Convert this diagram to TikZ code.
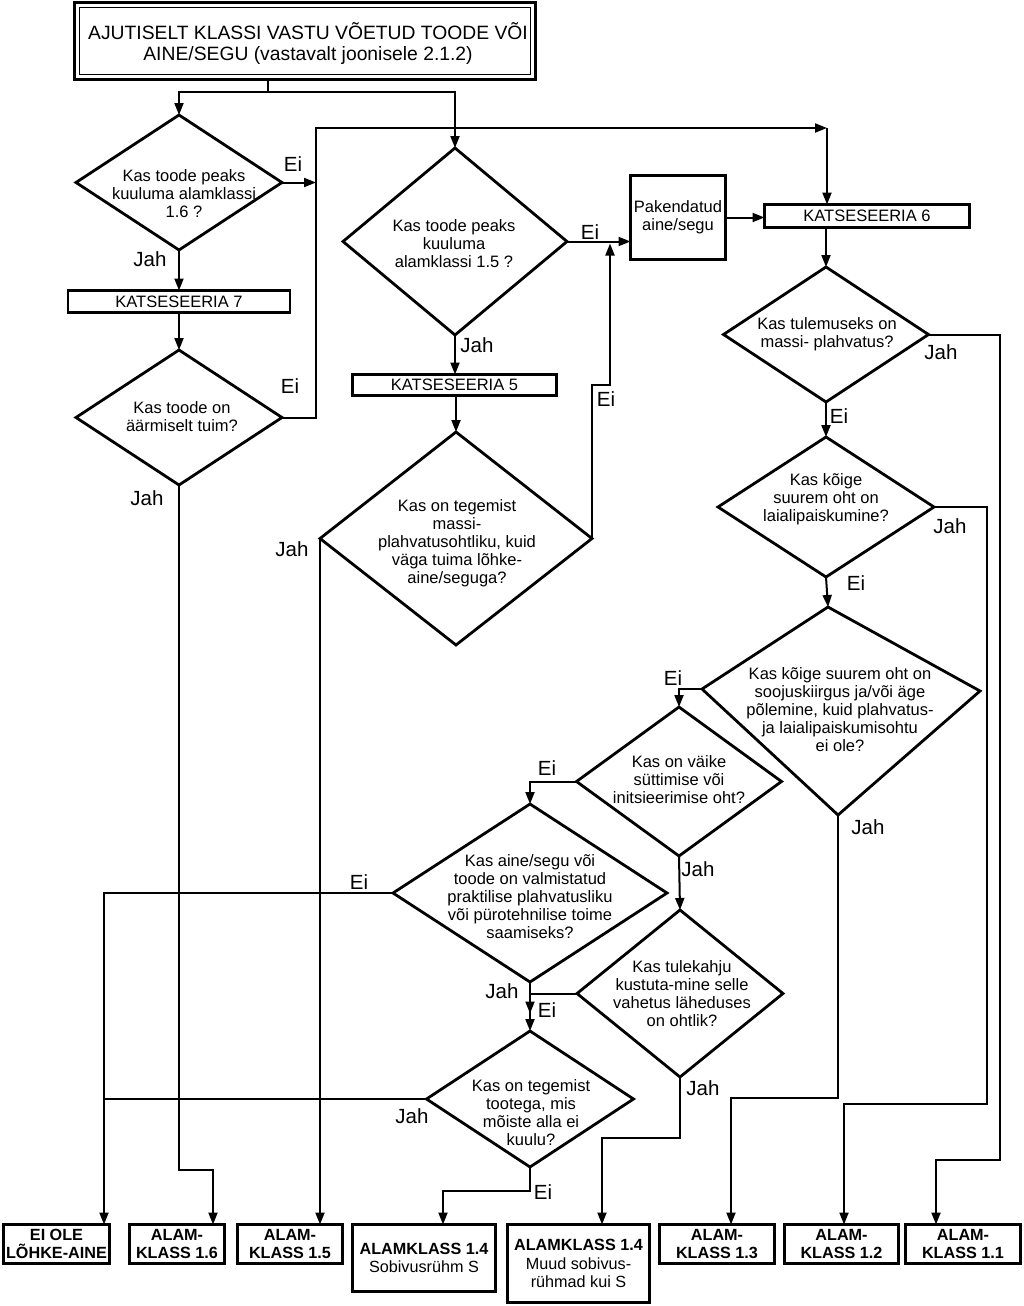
\documentclass[tikz,border=0pt]{standalone}
\usepackage{fontspec}
\setmainfont{Liberation Sans}
\usetikzlibrary{arrows.meta,shapes.geometric}
\begin{document}
\begin{tikzpicture}[x=1pt,y=-1pt,
  conn/.style={line width=2pt},
  arr/.style={conn,-{Triangle[length=12pt,width=9pt]}},
  dia/.style={draw,diamond,line width=2.8pt,inner sep=0pt,outer sep=0pt},
  qt/.style={font=\fontsize{16.5}{18}\selectfont,align=center,inner sep=0pt},
  lbl/.style={font=\fontsize{20.5}{22}\selectfont,inner sep=0pt},
  kbox/.style={draw,line width=2.8pt,inner sep=0pt,outer sep=0pt,align=center,font=\fontsize{16.5}{18}\selectfont},
  res/.style={draw,line width=2.8pt,inner sep=0pt,outer sep=0pt,align=center,font=\fontsize{16.2}{18.3}\selectfont\bfseries}
]
\useasboundingbox (0,0) rectangle (1023,1306);

% top box
\node[draw,line width=3pt,minimum width=461pt,minimum height=77pt,inner sep=0pt,outer sep=0pt] (top) at (305,41) {};
\draw[line width=1.3pt] ([shift={(5,5)}]top.north west) rectangle ([shift={(-5,-5)}]top.south east);
\node[qt,font=\fontsize{19.3}{21}\selectfont] (toptext) at (308,43.5) {AJUTISELT KLASSI VASTU VÕETUD TOODE VÕI\\AINE/SEGU (vastavalt joonisele 2.1.2)};

% diamonds
\node[dia,minimum width=206pt,minimum height=135pt] (d1) at (179,182.5) {};
\node[qt] (t1) at (184,194) {Kas toode peaks\\kuuluma alamklassi\\1.6 ?};
\node[dia,minimum width=206pt,minimum height=135pt] (d2) at (179,417.5) {};
\node[qt] (t2) at (182,417) {Kas toode on\\äärmiselt tuim?};
\node[dia,minimum width=224pt,minimum height=187pt] (d3) at (455,241.5) {};
\node[qt] (t3) at (454,244) {Kas toode peaks\\kuuluma\\alamklassi 1.5 ?};
\node[dia,minimum width=272pt,minimum height=213pt] (d4) at (456,538.5) {};
\node[qt] (t4) at (457,543) {Kas on tegemist\\massi-\\plahvatusohtliku, kuid\\väga tuima lõhke-\\aine/seguga?};
\node[dia,minimum width=205pt,minimum height=135pt] (d5) at (826,334.5) {};
\node[qt] (t5) at (827,334) {Kas tulemuseks on\\massi- plahvatus?};
\node[dia,minimum width=216pt,minimum height=140pt] (d6) at (826,507) {};
\node[qt] (t6) at (826,499) {Kas kõige\\suurem oht on\\laialipaiskumine?};
% irregular diamond 7
\coordinate (d7t) at (828,607);
\coordinate (d7r) at (980,691);
\coordinate (d7b) at (838,815);
\coordinate (d7l) at (702,689);
\draw[line width=2.8pt,line join=miter] (d7t) -- (d7r) -- (d7b) -- (d7l) -- cycle;
\node[qt] (d7) at (840,710) {Kas kõige suurem oht on\\soojuskiirgus ja/või äge\\põlemine, kuid plahvatus-\\ja laialipaiskumisohtu\\ei ole?};
\node[dia,minimum width=205pt,minimum height=149pt] (d8) at (679,781.5) {};
\node[qt] (t8) at (679,780) {Kas on väike\\süttimise või\\initsieerimise oht?};
\node[dia,minimum width=274pt,minimum height=178pt] (d9) at (530,893) {};
\node[qt] (t9) at (530,897) {Kas aine/segu või\\toode on valmistatud\\praktilise plahvatusliku\\või pürotehnilise toime\\saamiseks?};
\node[dia,minimum width=206pt,minimum height=167pt] (d10) at (680,993.5) {};
\node[qt] (t10) at (682,994) {Kas tulekahju\\kustuta-mine selle\\vahetus läheduses\\on ohtlik?};
\node[dia,minimum width=207pt,minimum height=136pt] (d11) at (530,1099) {};
\node[qt] (t11) at (531,1113) {Kas on tegemist\\tootega, mis\\mõiste alla ei\\kuulu?};

% boxes
\node[kbox,minimum width=222pt,minimum height=22pt] (k7) at (179,301.5) {KATSESEERIA 7};
\node[kbox,minimum width=204pt,minimum height=21pt] (k5) at (454.5,385) {KATSESEERIA 5};
\node[kbox,minimum width=205pt,minimum height=23pt] (k6) at (867,216) {KATSESEERIA 6};
\node[kbox,minimum width=95pt,minimum height=84pt] (pak) at (678,217.5) {Pakendatud\\aine/segu};

% result boxes
\node[res,minimum width=106pt,minimum height=39pt] (eiole) at (56.5,1244) {EI OLE\\LÕHKE-AINE};
\node[res,minimum width=95pt,minimum height=39pt] (a16) at (177,1244) {ALAM-\\KLASS 1.6};
\node[res,minimum width=105pt,minimum height=39pt] (a15) at (290,1244) {ALAM-\\KLASS 1.5};
\node[res,minimum width=143pt,minimum height=67pt] (a14s) at (424,1258) {ALAMKLASS 1.4\\\mdseries Sobivusrühm S};
\node[res,minimum width=142pt,minimum height=78pt] (a14m) at (578.5,1263.5) {ALAMKLASS 1.4\\\mdseries Muud sobivus-\\\mdseries rühmad kui S};
\node[res,minimum width=115pt,minimum height=39pt] (a13) at (717,1244) {ALAM-\\KLASS 1.3};
\node[res,minimum width=114pt,minimum height=39pt] (a12) at (841.5,1244) {ALAM-\\KLASS 1.2};
\node[res,minimum width=115pt,minimum height=39pt] (a11) at (963,1244) {ALAM-\\KLASS 1.1};

% junction coordinates
\coordinate (tj) at (268,92);
\coordinate (bus) at (316,128);
\coordinate (bc) at (827,128);
\coordinate (e4) at (610,385);
\coordinate (c16) at (213,1170);
\coordinate (r1) at (1000,1160);
\coordinate (r1b) at (936,1160);
\coordinate (r2) at (987,1104);
\coordinate (r2b) at (844,1104);
\coordinate (c13) at (731,1098);
\coordinate (c0) at (104,893);
\coordinate (c14m) at (602,1138);
\coordinate (c14s) at (443,1191);

% connectors
\draw[conn] (tj |- top.south) -- (tj);
\draw[arr] (tj) -| (d1.north);
\draw[arr] (tj) -| (d3.north);
\draw[arr] (d1.east) -- (d1.east -| bus);
\draw[arr] (d2.east) -| (bus) -- (bc);
\draw[arr] (bc) -- (bc |- k6.north);
\draw[arr] (d1.south) -- (k7.north);
\draw[arr] (k7.south) -- (d2.north);
\draw[arr] (d2.south) |- (c16) -- (c16 |- a16.north);
\draw[arr] (d3.south) -- (d3.south |- k5.north);
\draw[arr] (d4.north |- k5.south) -- (d4.north);
\draw[arr] (d3.east) -- (d3.east -| pak.west);
\draw[arr] (d4.east) |- (e4) -- ([yshift=-2pt]e4 |- d3.east);
\draw[arr] (pak.east) -- (pak.east -| k6.west);
\draw[arr] (d5.north |- k6.south) -- (d5.north);
\draw[arr] (d5.east) -| (r1) -- (r1b) -- (r1b |- a11.north);
\draw[arr] (d5.south) -- (d6.north);
\draw[arr] (d6.east) -| (r2) -- (r2b) -- (r2b |- a12.north);
\draw[arr] (d6.south) -- (d7t);
\draw[arr] (d7l) -| (d8.north);
\draw[arr] (d7b) |- (c13) -- (c13 |- a13.north);
\draw[arr] (d8.west) -| (d9.north);
\draw[arr] (d8.south) -- (d10.north);
\draw[arr] (d9.west) -- (c0) -- (c0 |- eiole.north);
\draw[arr] (d9.south) -- (d11.north);
\draw[arr] (d10.west) -- (d9.south |- d10.west) -- ++(0,20);
\draw[arr] (d10.south) |- (c14m) -- (c14m |- a14m.north);
\draw[conn] (d11.west) -- (d11.west -| c0);
\draw[arr] (d11.south) |- (c14s) -- (c14s |- a14s.north);
\draw[arr] (d4.west) -- (d4.west |- a15.north);

% labels
\node[lbl] (l1e) at (293,164) {Ei};
\node[lbl] (l1j) at (150,259) {Jah};
\node[lbl] (l2e) at (290,386) {Ei};
\node[lbl] (l2j) at (147,498) {Jah};
\node[lbl] (l3e) at (590,232) {Ei};
\node[lbl] (l3j) at (477,345) {Jah};
\node[lbl] (l4e) at (606,399) {Ei};
\node[lbl] (l4j) at (292,549) {Jah};
\node[lbl] (l5j) at (941,352) {Jah};
\node[lbl] (l5e) at (839,416) {Ei};
\node[lbl] (l6j) at (950,526) {Jah};
\node[lbl] (l6e) at (856,583) {Ei};
\node[lbl] (l7e) at (673,678) {Ei};
\node[lbl] (l7j) at (868,827) {Jah};
\node[lbl] (l8e) at (547,768) {Ei};
\node[lbl] (l8j) at (698,869) {Jah};
\node[lbl] (l9e) at (359,882) {Ei};
\node[lbl] (l9j) at (502,991) {Jah};
\node[lbl] (l10e) at (547,1010) {Ei};
\node[lbl] (l10j) at (703,1088) {Jah};
\node[lbl] (l11j) at (412,1116) {Jah};
\node[lbl] (l11e) at (543,1192) {Ei};
\end{tikzpicture}
\end{document}
